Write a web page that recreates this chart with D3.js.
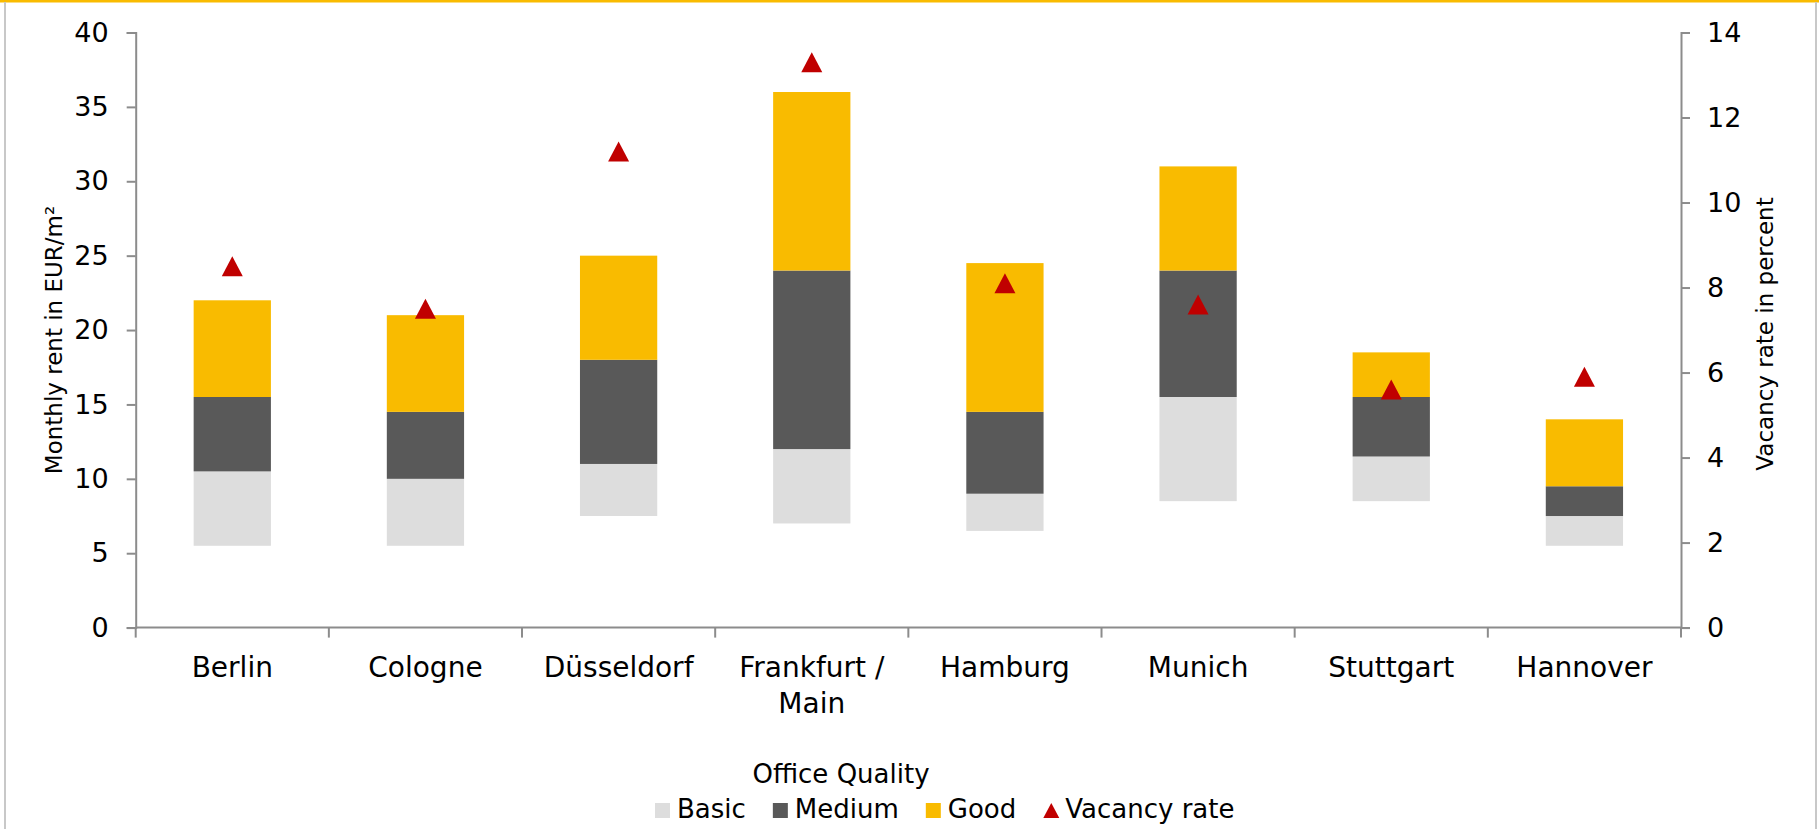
<!DOCTYPE html>
<html>
<head>
<meta charset="utf-8">
<script src="https://cdnjs.cloudflare.com/ajax/libs/d3/7.8.5/d3.min.js"></script>
<style>
	body { margin: 0; background: #fff; }
	svg text { font-family: "DejaVu Sans", Verdana, sans-serif; fill: #000; }
</style>
</head>
<body>
<div id="chart"></div>
<script>
// office rents per quality class and vacancy rate, German top cities

var cities     = ["Berlin", "Cologne", "Düsseldorf", "Frankfurt / Main", "Hamburg", "Munich", "Stuttgart", "Hannover"];
var basicLow   = [5.5, 5.5, 7.5, 7.0, 6.5, 8.5, 8.5, 5.5];
var basicHigh  = [10.5, 10.0, 11.0, 12.0, 9.0, 15.5, 11.5, 7.5];
var mediumHigh = [15.5, 14.5, 18.0, 24.0, 14.5, 24.0, 15.5, 9.5];
var goodHigh   = [22.0, 21.0, 25.0, 36.0, 24.5, 31.0, 18.5, 14.0];
var vacancy    = [8.5, 7.5, 11.2, 13.3, 8.1, 7.6, 5.6, 5.9];

var rentTicks    = [0, 5, 10, 15, 20, 25, 30, 35, 40];
var vacancyTicks = [0, 2, 4, 6, 8, 10, 12, 14];

var legendTitle = "Office Quality";
var seriesNames = ["Basic", "Medium", "Good", "Vacancy rate"];
var colors      = ["#dddddd", "#595959", "#f9bb00", "#c00000"];

var chartWidth = 1819, chartHeight = 829;
var plotLeft = 135.7, plotRight = 1681, plotTop = 32.5, plotBottom = 627.6;
var axisColor = "#8c8c8c";

var svg = d3.select("#chart").append("svg")
	.attr("width", chartWidth)
	.attr("height", chartHeight);

// frame
svg.append("rect").attr("x", 0).attr("y", 0).attr("width", chartWidth).attr("height", 2.5).style("fill", "#f9bb00");
svg.append("line").attr("x1", 5).attr("x2", 5).attr("y1", 2).attr("y2", chartHeight)
	.style("stroke", "#c8c8c8").style("stroke-width", 2);
svg.append("line").attr("x1", 1816).attr("x2", 1816).attr("y1", 2).attr("y2", chartHeight)
	.style("stroke", "#c8c8c8").style("stroke-width", 2);

var x = d3.scaleBand()
	.domain(cities)
	.range([plotLeft, plotRight])
	.paddingInner(0.6)
	.paddingOuter(0.3);

var yRent = d3.scaleLinear().domain([0, 40]).range([plotBottom, plotTop]);
var yVac  = d3.scaleLinear().domain([0, 14]).range([plotBottom, plotTop]);

// stacked floating bars
var segments = [];
cities.forEach(function(c, i) {
	segments.push({city: c, from: basicLow[i], to: basicHigh[i], color: colors[0]});
	segments.push({city: c, from: basicHigh[i], to: mediumHigh[i], color: colors[1]});
	segments.push({city: c, from: mediumHigh[i], to: goodHigh[i], color: colors[2]});
});

svg.append("g").selectAll("rect")
	.data(segments)
	.enter().append("rect")
	.attr("x", function(d) { return x(d.city); })
	.attr("width", x.bandwidth())
	.attr("y", function(d) { return yRent(d.to); })
	.attr("height", function(d) { return yRent(d.from) - yRent(d.to); })
	.style("fill", function(d) { return d.color; });

// left axis
var axisL = svg.append("g")
	.attr("transform", "translate(" + plotLeft + ",0)")
	.call(d3.axisLeft(yRent).tickValues(rentTicks).tickSize(9).tickPadding(18));

// right axis
var axisR = svg.append("g")
	.attr("transform", "translate(" + plotRight + ",0)")
	.call(d3.axisRight(yVac).tickValues(vacancyTicks).tickSize(9).tickPadding(17));

[axisL, axisR].forEach(function(a) {
	a.select(".domain").attr("stroke", axisColor).attr("stroke-width", 2);
	a.selectAll(".tick line").attr("stroke", axisColor).attr("stroke-width", 2);
	a.selectAll(".tick text").style("font-size", "27px").attr("fill", "#000")
		.style("font-family", "'DejaVu Sans', Verdana, sans-serif");
});

// x axis with ticks between categories
var xg = svg.append("g");
xg.append("line")
	.attr("x1", plotLeft).attr("x2", plotRight)
	.attr("y1", plotBottom).attr("y2", plotBottom)
	.style("stroke", axisColor).style("stroke-width", 2);

xg.selectAll("line.tk")
	.data(d3.range(cities.length + 1))
	.enter().append("line")
	.attr("class", "tk")
	.attr("x1", function(i) { return plotLeft + i * x.step(); })
	.attr("x2", function(i) { return plotLeft + i * x.step(); })
	.attr("y1", plotBottom)
	.attr("y2", plotBottom + 10)
	.style("stroke", axisColor).style("stroke-width", 2);

var labels = xg.selectAll("text")
	.data(cities)
	.enter().append("text")
	.attr("text-anchor", "middle")
	.style("font-size", "28px")
	.attr("transform", function(d) { return "translate(" + (x(d) + x.bandwidth() / 2) + ",677)"; });

labels.each(function(d) {
	var cut = d.indexOf("/ ");
	var parts = cut > 0 ? [d.slice(0, cut + 1), d.slice(cut + 2)] : [d];
	var t = d3.select(this);
	parts.forEach(function(p, k) {
		t.append("tspan").attr("x", 0).attr("y", k * 36).text(p);
	});
});

// vacancy markers
var tri = "M0,-10L10.5,10L-10.5,10Z";
svg.append("g").selectAll("path")
	.data(cities)
	.enter().append("path")
	.attr("d", tri)
	.attr("transform", function(d, i) {
		return "translate(" + (x(d) + x.bandwidth() / 2) + "," + yVac(vacancy[i]) + ")";
	})
	.style("fill", colors[3]);

// axis titles
svg.append("text")
	.attr("transform", "translate(62,340) rotate(-90)")
	.attr("text-anchor", "middle")
	.style("font-size", "23px")
	.text("Monthly rent in EUR/m²");

svg.append("text")
	.attr("transform", "translate(1773,334) rotate(-90)")
	.attr("text-anchor", "middle")
	.style("font-size", "23px")
	.text("Vacancy rate in percent");

// legend
svg.append("text")
	.attr("x", 841).attr("y", 783)
	.attr("text-anchor", "middle")
	.style("font-size", "26px")
	.text(legendTitle);

var lx = 655;
seriesNames.forEach(function(name, i) {
	if (i < 3) {
		svg.append("rect")
			.attr("x", lx).attr("y", 803)
			.attr("width", 15).attr("height", 15)
			.style("fill", colors[i]);
	} else {
		svg.append("path")
			.attr("d", "M0,-7.5L8,7.5L-8,7.5Z")
			.attr("transform", "translate(" + (lx + 8) + ",810.5)")
			.style("fill", colors[i]);
	}
	var t = svg.append("text")
		.attr("x", lx + 22).attr("y", 818)
		.style("font-size", "26px")
		.text(name);
	lx = lx + 22 + t.node().getComputedTextLength() + 27;
});
</script>
</body>
</html>
